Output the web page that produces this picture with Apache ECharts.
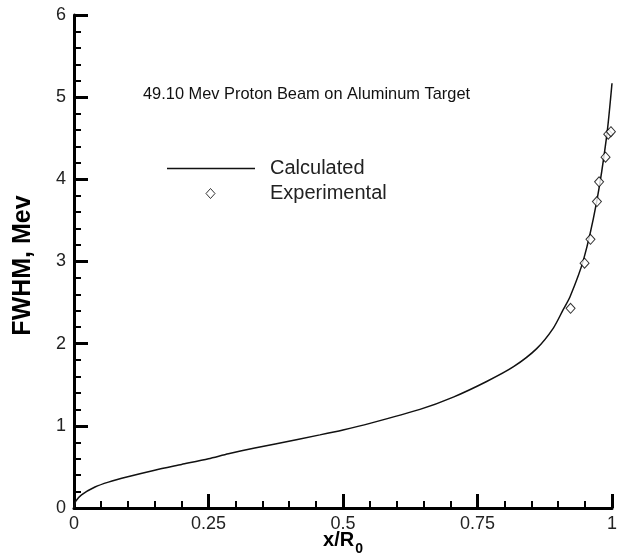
<!DOCTYPE html>
<html>
<head>
<meta charset="utf-8">
<style>
  html, body { margin: 0; padding: 0; background: #fff; }
  #chart { width: 621px; height: 553px; }
</style>
<script src="https://cdn.jsdelivr.net/npm/echarts@6/dist/echarts.min.js"></script>
</head>
<body>
<div id="chart"></div>
<script>
// Calculated FWHM of the beam energy spread vs. normalised depth x/R0
const calcDepth = [0, 0.003, 0.014, 0.039, 0.064, 0.1, 0.15, 0.2, 0.25, 0.287, 0.336, 0.374,
  0.457, 0.5, 0.55, 0.643, 0.705, 0.767, 0.817, 0.86, 0.891, 0.909, 0.922, 0.947, 0.971, 0.99, 1.0];
const calcFwhm = [0, 0.08, 0.16, 0.255, 0.315, 0.38, 0.46, 0.53, 0.60, 0.66, 0.73, 0.78,
  0.89, 0.95, 1.03, 1.20, 1.35, 1.54, 1.72, 1.94, 2.19, 2.41, 2.57, 3.02, 3.71, 4.52, 5.17];

// Measured points
const expDepth = [0.923, 0.949, 0.960, 0.972, 0.976, 0.988, 0.993, 0.998];
const expFwhm = [2.43, 2.98, 3.27, 3.73, 3.97, 4.27, 4.55, 4.58];

const seriesNames = ['Calculated', 'Experimental'];
const titleText = '49.10 Mev Proton Beam on Aluminum Target';
const xName = 'x/R';
const xNameSub = '0';
const yName = 'FWHM, Mev';

const FONT = "'Liberation Sans', Arial, sans-serif";

const pair = (xs, ys) => xs.map((x, i) => [x, ys[i]]);

const axisCommon = {
  type: 'value',
  nameMoveOverlap: false,
  axisLine: { show: true, lineStyle: { color: '#000', width: 3 } },
  axisTick: { show: true, inside: true, length: 14, lineStyle: { color: '#000', width: 3 } },
  minorTick: { show: true, splitNumber: 5, length: 7, lineStyle: { color: '#000', width: 2 } },
  splitLine: { show: false },
  axisLabel: { color: '#222', fontSize: 18, fontFamily: FONT }
};

const legendText = { fontSize: 20, color: '#222', fontFamily: FONT };

const chart = echarts.init(document.getElementById('chart'), null, { renderer: 'canvas' });
chart.setOption({
  backgroundColor: '#fff',
  animation: false,
  title: {
    text: titleText,
    left: 143, top: 86, padding: 0,
    textStyle: { fontSize: 16.4, fontWeight: 'normal', color: '#111', fontFamily: FONT }
  },
  legend: [
    {
      data: [{ name: seriesNames[0], icon: 'rect' }],
      left: 167, top: 158.5, padding: 0,
      orient: 'vertical',
      itemWidth: 88, itemHeight: 1.5,
      textStyle: Object.assign({ padding: [0, 0, 0, 10] }, legendText),
      selectedMode: false
    },
    {
      data: [{ name: seriesNames[1], icon: 'diamond' }],
      left: 205.5, top: 183.5, padding: 0,
      orient: 'vertical',
      itemWidth: 9, itemHeight: 10,
      itemStyle: { color: '#fff', borderColor: '#000', borderWidth: 1 },
      textStyle: Object.assign({ padding: [0, 0, 0, 50] }, legendText),
      selectedMode: false
    }
  ],
  grid: { left: 74, right: 9, top: 15, bottom: 45, containLabel: false, outerBoundsMode: 'none' },
  xAxis: Object.assign({}, axisCommon, {
    min: 0, max: 1, interval: 0.25,
    axisLabel: Object.assign({}, axisCommon.axisLabel, { margin: 7 }),
    name: '{a|' + xName + '}{b|' + xNameSub + '}',
    nameLocation: 'middle',
    nameGap: 21,
    nameTextStyle: {
      rich: {
        a: { fontSize: 20, fontWeight: 'bold', color: '#000', fontFamily: FONT, lineHeight: 22 },
        b: { fontSize: 14, fontWeight: 'bold', color: '#000', fontFamily: FONT, lineHeight: 22, padding: [18, 0, 0, 1] }
      }
    }
  }),
  yAxis: Object.assign({}, axisCommon, {
    min: 0, max: 6, interval: 1,
    axisLabel: Object.assign({}, axisCommon.axisLabel, { margin: 8 }),
    name: yName + '{sp|}',
    nameLocation: 'middle',
    nameGap: 38,
    nameTextStyle: {
      fontSize: 25, fontWeight: 'bold', color: '#000', fontFamily: FONT,
      rich: { sp: { width: 8, fontSize: 25 } }
    }
  }),
  series: [
    {
      name: seriesNames[0],
      type: 'line',
      data: pair(calcDepth, calcFwhm),
      symbol: 'none',
      smooth: 0.25,
      lineStyle: { color: '#111', width: 1.5 },
      itemStyle: { color: '#111' },
      z: 2
    },
    {
      name: seriesNames[1],
      type: 'scatter',
      data: pair(expDepth, expFwhm),
      symbol: 'diamond',
      symbolSize: [9, 10],
      itemStyle: { color: '#fff', borderColor: '#000', borderWidth: 1 },
      z: 3
    }
  ]
});
</script>
</body>
</html>
